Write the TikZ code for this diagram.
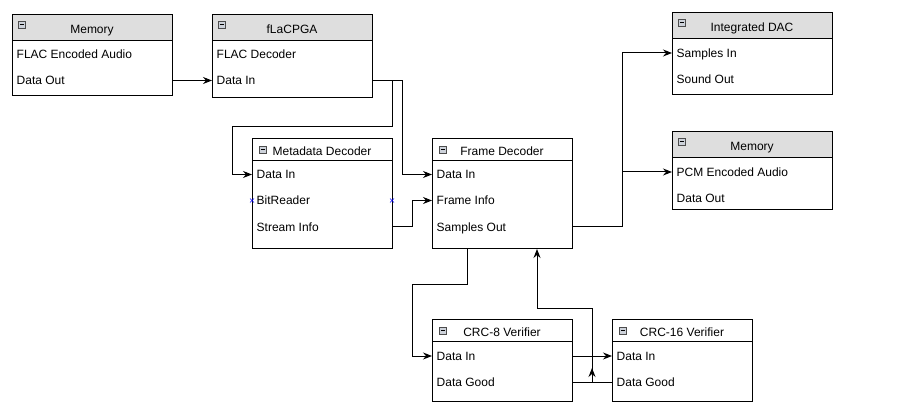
\documentclass[tikz,border=0pt]{standalone}
\usepackage{fontspec}
\setmainfont{Liberation Sans}
\usetikzlibrary{arrows.meta}
\definecolor{hdr}{RGB}{222,222,222}
\definecolor{iconfill}{RGB}{205,210,218}
\tikzset{
  box/.style={draw, line width=1pt, fill=white, inner sep=0pt, outer sep=0pt},
  ttl/.style={inner sep=0pt, text height=9pt, text depth=0pt, font=\fontsize{12}{14}\selectfont},
  row/.style={inner sep=0pt, anchor=west, text height=9pt, text depth=0pt, font=\fontsize{12}{14}\selectfont},
  icon/.style={draw=gray!60!black, line width=0.6pt, fill=iconfill, minimum size=7pt, inner sep=0pt,
    path picture={\draw[black, line width=1pt] ([xshift=1.3pt]path picture bounding box.west) -- ([xshift=-1.3pt]path picture bounding box.east);}},
  conn/.style={line width=1pt, -{Stealth[length=9pt, width=7pt, inset=3pt]}},
  xmark/.style={blue, line width=0.6pt},
}
% gray header box: name, left, top, width, height, title
\newcommand\graybox[6]{%
  \node[box, minimum width=#4pt, minimum height=#5pt, anchor=north west] (#1) at (#2,#3) {};
  \draw[line width=1pt, fill=hdr] (#1.north west) rectangle ([yshift=-26pt]#1.north east);
  \node[icon] (#1-i) at ([xshift=10pt,yshift=-9.5pt]#1.north west) {};
  \node[ttl] (#1-t) at ([yshift=-14.5pt]#1.north) {#6};
}
% white header box
\newcommand\whitebox[6]{%
  \node[box, minimum width=#4pt, minimum height=#5pt, anchor=north west] (#1) at (#2,#3) {};
  \draw[line width=1pt] ([yshift=-22pt]#1.north west) -- ([yshift=-22pt]#1.north east);
  \node[icon] (#1-i) at ([xshift=11pt,yshift=-11pt]#1.north west) {};
  \node[ttl] (#1-t) at ([yshift=-12.5pt]#1.north) {#6};
}
\begin{document}
\begin{tikzpicture}[x=1pt, y=-1pt]
\useasboundingbox[fill=white] (0,0) rectangle (899,411);

\graybox{mema}{12}{15}{160}{81}{Memory}
\node[row] (mema-r1) at ([xshift=4.5pt,yshift=-39.5pt]mema.north west) {FLAC Encoded Audio};
\node[row] (mema-r2) at ([xshift=4.5pt,yshift=-65.5pt]mema.north west) {Data Out};

\graybox{fpga}{212}{15}{160}{83}{fLaCPGA}
\node[row] (fpga-r1) at ([xshift=4.5pt,yshift=-39.5pt]fpga.north west) {FLAC Decoder};
\node[row] (fpga-r2) at ([xshift=4.5pt,yshift=-65.5pt]fpga.north west) {Data In};

\graybox{dac}{672}{13}{160}{82}{Integrated DAC}
\node[row] (dac-r1) at ([xshift=4.5pt,yshift=-40pt]dac.north west) {Samples In};
\node[row] (dac-r2) at ([xshift=4.5pt,yshift=-66pt]dac.north west) {Sound Out};

\graybox{memb}{672}{132}{160}{78}{Memory}
\node[row] (memb-r1) at ([xshift=4.5pt,yshift=-40pt]memb.north west) {PCM Encoded Audio};
\node[row] (memb-r2) at ([xshift=4.5pt,yshift=-66pt]memb.north west) {Data Out};

\whitebox{meta}{252}{139}{140}{110}{Metadata Decoder}
\node[row] (meta-r1) at ([xshift=4.5pt,yshift=-35.5pt]meta.north west) {Data In};
\node[row] (meta-r2) at ([xshift=4.5pt,yshift=-61.5pt]meta.north west) {BitReader};
\node[row] (meta-r3) at ([xshift=4.5pt,yshift=-88pt]meta.north west) {Stream Info};

\whitebox{frame}{432}{139}{140}{110}{Frame Decoder}
\node[row] (frame-r1) at ([xshift=4.5pt,yshift=-35.5pt]frame.north west) {Data In};
\node[row] (frame-r2) at ([xshift=4.5pt,yshift=-61.5pt]frame.north west) {Frame Info};
\node[row] (frame-r3) at ([xshift=4.5pt,yshift=-88pt]frame.north west) {Samples Out};

\whitebox{crca}{432}{320}{140}{81}{CRC-8 Verifier}
\node[row] (crca-r1) at ([xshift=4.5pt,yshift=-36pt]crca.north west) {Data In};
\node[row] (crca-r2) at ([xshift=4.5pt,yshift=-62pt]crca.north west) {Data Good};

\whitebox{crcb}{612}{320}{140}{81}{CRC-16 Verifier}
\node[row] (crcb-r1) at ([xshift=4.5pt,yshift=-36pt]crcb.north west) {Data In};
\node[row] (crcb-r2) at ([xshift=4.5pt,yshift=-62pt]crcb.north west) {Data Good};

% blue markers
\foreach \p in {meta.west, meta.east}{
  \draw[xmark] ([shift={(-2pt,-2pt)}]\p |- meta-r2) -- ([shift={(2pt,2pt)}]\p |- meta-r2);
  \draw[xmark] ([shift={(-2pt,2pt)}]\p |- meta-r2) -- ([shift={(2pt,-2pt)}]\p |- meta-r2);
}

% connectors
\draw[conn] (mema.east |- mema-r2) -- (fpga.west |- fpga-r2);
\draw[conn] (fpga.east |- fpga-r2) -- ++(20,0) -- ++(0,46.5) -| ([xshift=-20pt]meta.west |- meta-r1) -- (meta.west |- meta-r1);
\draw[conn] (fpga.east |- fpga-r2) -- ++(30,0) |- (frame.west |- frame-r1);
\draw[conn] (meta.east |- meta-r3) -- ++(20,0) |- (frame.west |- frame-r2);
\draw[conn] (frame.east |- frame-r3) -- ++(50,0) |- (dac.west |- dac-r1);
\draw[conn] (frame.east |- frame-r3) -- ++(50,0) |- (memb.west |- memb-r1);
\draw[conn] ([xshift=35pt]frame.south west) -- ++(0,36) -| ([xshift=-20pt]crca.west |- crca-r1) -- (crca.west |- crca-r1);
\draw[conn] (crca.east |- crca-r1) -- (crcb.west |- crcb-r1);
\draw[conn] (crca.east |- crca-r2) -- ++(20,0) -- ++(0,-73) -| ([xshift=105pt]frame.south west);
\draw[conn] (crcb.west |- crcb-r2) -- ++(-20,0) -- ++(0,-14);
\end{tikzpicture}
\end{document}
